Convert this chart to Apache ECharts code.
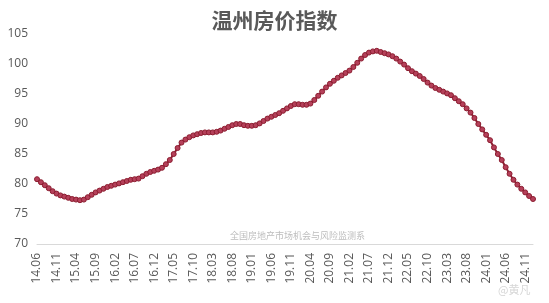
<!DOCTYPE html>
<html><head><meta charset="utf-8">
<script src="https://cdn.jsdelivr.net/npm/echarts@6/dist/echarts.min.js"></script>
<style>html,body{margin:0;padding:0;background:#fff}#c{width:549px;height:303px}</style>
</head><body><div id="c"></div>
<script>
var title = '温州房价指数';
var watermark = '全国房地产市场机会与风险监测系';
var months = [
'14.06','14.07','14.08','14.09','14.10','14.11','14.12',
'15.01','15.02','15.03','15.04','15.05','15.06','15.07','15.08','15.09','15.10','15.11','15.12',
'16.01','16.02','16.03','16.04','16.05','16.06','16.07','16.08','16.09','16.10','16.11','16.12',
'17.01','17.02','17.03','17.04','17.05','17.06','17.07','17.08','17.09','17.10','17.11','17.12',
'18.01','18.02','18.03','18.04','18.05','18.06','18.07','18.08','18.09','18.10','18.11','18.12',
'19.01','19.02','19.03','19.04','19.05','19.06','19.07','19.08','19.09','19.10','19.11','19.12',
'20.01','20.02','20.03','20.04','20.05','20.06','20.07','20.08','20.09','20.10','20.11','20.12',
'21.01','21.02','21.03','21.04','21.05','21.06','21.07','21.08','21.09','21.10','21.11','21.12',
'22.01','22.02','22.03','22.04','22.05','22.06','22.07','22.08','22.09','22.10','22.11','22.12',
'23.01','23.02','23.03','23.04','23.05','23.06','23.07','23.08','23.09','23.10','23.11','23.12',
'24.01','24.02','24.03','24.04','24.05','24.06','24.07','24.08','24.09','24.10','24.11','24.12',
'25.01'
];
var index = [
80.8,80.3,79.8,79.3,78.8,78.4,78.1,
77.9,77.7,77.5,77.4,77.3,77.4,77.8,78.2,78.6,78.9,79.2,79.5,
79.7,79.9,80.1,80.3,80.5,80.7,80.8,80.9,81.3,81.7,82.0,82.2,
82.4,82.7,83.3,84.0,85.0,86.0,86.9,87.4,87.8,88.1,88.3,88.5,
88.6,88.6,88.6,88.7,88.9,89.2,89.5,89.8,90.0,90.0,89.8,89.7,
89.7,89.8,90.1,90.5,90.9,91.2,91.5,91.8,92.2,92.6,93.0,93.3,
93.3,93.2,93.2,93.4,94.0,94.7,95.4,96.1,96.7,97.2,97.7,98.1,
98.5,98.9,99.5,100.2,100.9,101.5,101.9,102.1,102.2,102.0,101.8,101.6,
101.3,100.9,100.4,99.9,99.3,98.8,98.4,98.0,97.5,96.9,96.4,96.0,
95.7,95.4,95.1,94.8,94.3,93.8,93.3,92.6,91.9,91.0,90.0,89.1,
88.2,87.3,86.1,85.0,84.0,82.8,81.7,80.7,79.9,79.2,78.6,78.0,
77.5
];
var yMin = 70, yMax = 105, yStep = 5;

var chart = echarts.init(document.getElementById('c'));
chart.setOption({
  animation: false,
  backgroundColor: '#fff',
  title: {
    text: title, left: 'center', top: 5,
    textStyle: {fontFamily: 'Noto Sans CJK SC', fontSize: 21, fontWeight: 'bold', color: '#595959'}
  },
  grid: {left: 37, right: 16, top: 34, bottom: 59},
  xAxis: {
    type: 'category', data: months, boundaryGap: false,
    axisLine: {lineStyle: {color: '#d9d9d9', width: 1}},
    axisTick: {show: false},
    axisLabel: {interval: 4, rotate: 90, margin: 9, color: '#595959', fontSize: 12, fontFamily: 'Open Sans'},
    splitLine: {show: false}
  },
  yAxis: {
    type: 'value', min: yMin, max: yMax, interval: yStep,
    axisLine: {show: false}, axisTick: {show: false},
    splitLine: {show: false},
    axisLabel: {margin: 9, color: '#595959', fontSize: 12, fontFamily: 'Open Sans'}
  },
  graphic: [
    {type: 'text', left: 230, top: 231, style: {text: watermark, fill: '#bdbdbd', fontSize: 9, fontFamily: 'Noto Sans CJK SC'}},
    {type: 'text', left: 498, top: 284, style: {text: '@黄凡', fill: '#d6d6d6', fontSize: 11, fontFamily: 'Noto Sans CJK SC'}}
  ],
  series: [{
    type: 'line', data: index,
    symbol: 'circle', symbolSize: 5, showAllSymbol: true,
    lineStyle: {color: '#8c1d30', width: 2},
    itemStyle: {color: '#b5405a', borderColor: '#8c1d30', borderWidth: 1}
  }]
});
</script>
</body></html>
